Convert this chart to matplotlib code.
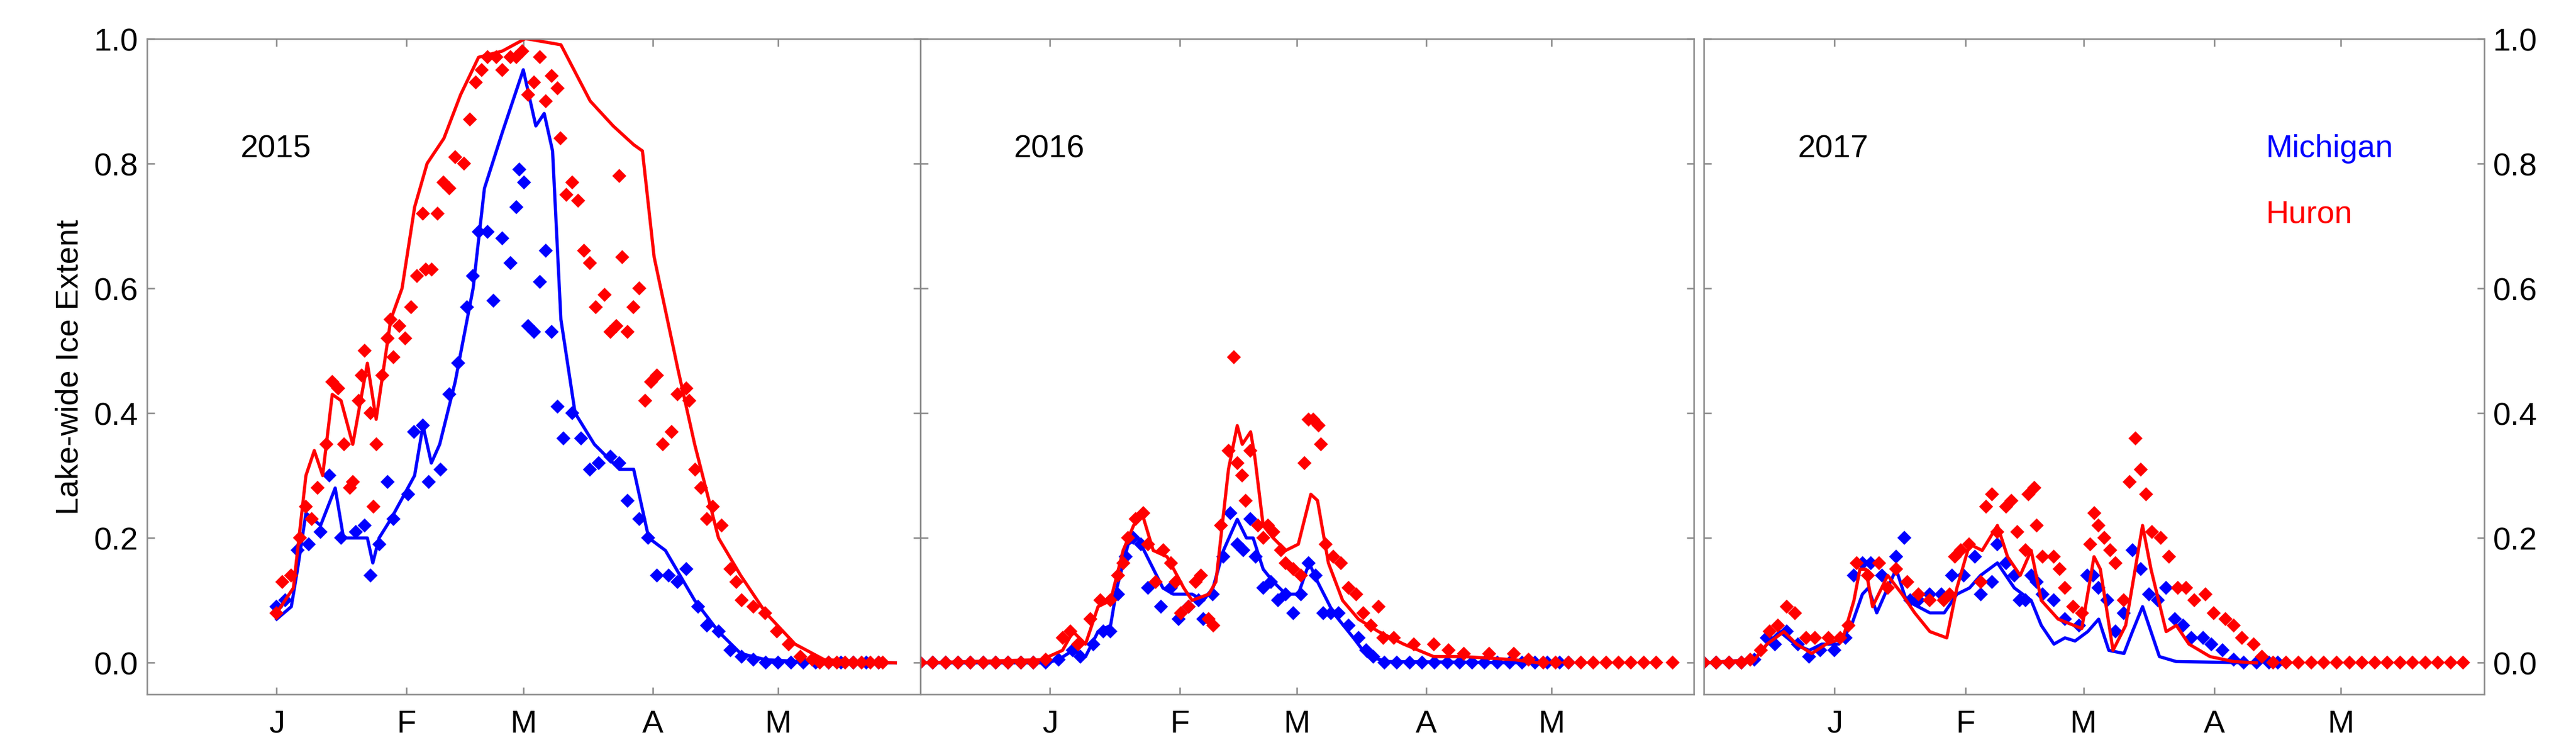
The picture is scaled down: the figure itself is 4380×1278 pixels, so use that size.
import matplotlib
matplotlib.use("Agg")
import matplotlib.pyplot as plt

plt.rcParams['font.family'] = ['Liberation Sans', 'DejaVu Sans']

years = ["2015", "2016", "2017"]
month_labels = ["J", "F", "M", "A", "M"]
month_days = [31, 62, 90, 121, 151]  # days since Dec 1

# ---- 2015 ----
mi_line_2015 = [(31,0.07),(34.5,0.09),(36,0.15),(38,0.24),(41.5,0.22),(45,0.28),(47,0.2),(52.7,0.2),(54,0.16),
    (55.5,0.2),(58.3,0.23),(64,0.3),(66,0.38),(68,0.32),(70,0.35),(73.7,0.45),(78,0.6),(80.7,0.76),(85,0.85),
    (90,0.95),(93,0.86),(95,0.88),(97,0.82),(99,0.55),(102.4,0.4),(107,0.35),(113,0.31),(116.4,0.31),(120,0.2),
    (124,0.18),(131,0.1),(136.7,0.05),(142,0.015),(148,0.005),(162,0.0),(179,0.0)]
hu_line_2015 = [(31,0.08),(35,0.12),(38,0.3),(40,0.34),(42,0.3),(44.3,0.43),(46.4,0.42),(49.2,0.35),(52.7,0.48),
    (54.8,0.39),(58.3,0.55),(61,0.6),(64,0.73),(67,0.8),(71,0.84),(75,0.91),(79.3,0.97),(85,0.98),(90.5,1.0),
    (99,0.99),(106,0.9),(111.5,0.86),(116.4,0.83),(118.5,0.82),(121.3,0.65),(127,0.47),(131,0.35),(136.7,0.2),
    (142,0.14),(148,0.08),(155,0.03),(162,0.005),(179,0.0)]
mi_pts_2015 = [(31,0.09),(33,0.1),(36,0.18),(38.7,0.19),(41.5,0.21),(43.6,0.3),(46.4,0.2),(49.9,0.21),(52,0.22),
    (53.4,0.14),(55.5,0.19),(57.6,0.29),(59,0.23),(62.5,0.27),(63.9,0.37),(66,0.38),(67.4,0.29),(70.2,0.31),
    (72.3,0.43),(74.4,0.48),(76.5,0.57),(77.9,0.62),(79.3,0.69),(81.4,0.69),(82.8,0.58),(84.9,0.68),(87,0.64),
    (88.4,0.73),(89.1,0.79),(90.2,0.77),(91.2,0.54),(92.6,0.53),(94,0.61),(95.4,0.66),(96.8,0.53),(98.2,0.41),
    (99.6,0.36),(101.7,0.4),(103.8,0.36),(105.9,0.31),(108,0.32),(110.8,0.33),(112.9,0.32),(115,0.26),
    (117.8,0.23),(119.9,0.2),(122,0.14),(124.8,0.14),(126.9,0.13),(129,0.15),(131.8,0.09),(133.9,0.06),
    (136.7,0.05),(139.5,0.02),(142.3,0.01),(145.1,0.005),(148,0.0),(151,0.0),(154,0.0),(157,0.0),(160,0.0),
    (163,0.0),(166,0.0),(169,0.0),(172,0.0),(175,0.0)]
hu_pts_2015 = [(31,0.08),(32.4,0.13),(34.5,0.14),(36.6,0.2),(38,0.25),(39.4,0.23),(40.8,0.28),(42.9,0.35),
    (44.3,0.45),(45.7,0.44),(47.1,0.35),(48.5,0.28),(49.2,0.29),(50.6,0.42),(51.3,0.46),(52,0.5),(53.4,0.4),
    (54.1,0.25),(54.8,0.35),(56.2,0.46),(57.6,0.52),(58.3,0.55),(59,0.49),(60.4,0.54),(61.8,0.52),(63.2,0.57),
    (64.6,0.62),(66,0.72),(66.7,0.63),(68.1,0.63),(69.5,0.72),(70.9,0.77),(72.3,0.76),(73.7,0.81),(75.8,0.8),
    (77.2,0.87),(78.6,0.93),(80,0.95),(81.4,0.97),(83.5,0.97),(84.9,0.95),(87,0.97),(88.4,0.97),(89.8,0.98),
    (91.2,0.91),(92.6,0.93),(94,0.97),(95.4,0.9),(96.8,0.94),(98.2,0.92),(98.9,0.84),(100.3,0.75),(101.7,0.77),
    (103.1,0.74),(104.5,0.66),(105.9,0.64),(107.3,0.57),(109.4,0.59),(110.8,0.53),(112.2,0.54),(112.9,0.78),
    (113.6,0.65),(115,0.53),(116.4,0.57),(117.8,0.6),(119.2,0.42),(120.6,0.45),(122,0.46),(123.4,0.35),
    (125.5,0.37),(126.9,0.43),(129,0.44),(129.7,0.42),(131.1,0.31),(132.5,0.28),(133.9,0.23),(135.3,0.25),
    (137.4,0.22),(139.5,0.15),(140.9,0.13),(142.3,0.1),(145.1,0.09),(147.9,0.08),(150.7,0.05),(153.5,0.03),
    (156.3,0.01),(159.1,0.005),(161,0.0),(163,0.0),(165,0.0),(167,0.0),(169,0.0),(171,0.0),(173,0.0),(175,0.0),(176,0.0)]

# ---- 2016 ----
mi_line_2016 = [(0,0.0),(30,0.0),(33,0.005),(36.5,0.02),(39.5,0.01),(42.5,0.05),(45.5,0.06),(47,0.12),(49.7,0.19),
    (52,0.2),(55,0.16),(58,0.12),(60.5,0.11),(65,0.11),(67.7,0.1),(70,0.12),(72.5,0.18),(75.8,0.23),(78,0.2),
    (79.6,0.2),(82,0.15),(84.4,0.13),(87.4,0.11),(90.4,0.11),(93,0.16),(95,0.13),(98.8,0.08),(103.6,0.04),
    (107,0.01),(112,0.002),(150,0.0)]
hu_line_2016 = [(0,0.0),(29,0.005),(34,0.02),(36.5,0.05),(39.5,0.03),(42.5,0.09),(45.5,0.1),(48.5,0.18),(51,0.22),
    (53,0.24),(55.7,0.18),(59,0.17),(63,0.12),(65,0.1),(69,0.11),(70.7,0.13),(73.7,0.31),(75.8,0.38),(77,0.35),
    (79,0.37),(80,0.33),(82,0.22),(84.4,0.2),(87.4,0.18),(90.4,0.19),(93.4,0.27),(95,0.26),(97.6,0.16),(101,0.1),
    (104.8,0.07),(109.6,0.05),(115.6,0.03),(122.8,0.01),(130,0.01),(142,0.005),(148,0.0)]
mi_pts_2016 = [(0,0),(3,0),(6,0),(9,0),(12,0),(15,0),(18,0),(21,0),(24,0),(27,0),(30,0),(33,0.005),
    (36.5,0.02),(38.3,0.01),(41.3,0.03),(43.7,0.05),(45.5,0.05),(47.3,0.11),(49.1,0.17),(50.9,0.2),(52.7,0.19),
    (54.5,0.12),(57.5,0.09),(59.9,0.12),(61.7,0.07),(64.1,0.09),(66.5,0.1),(67.7,0.07),(70,0.11),(72.5,0.17),
    (74.2,0.24),(75.8,0.19),(77.2,0.18),(79,0.23),(80.2,0.17),(82,0.12),(83.8,0.13),(85.6,0.1),(87.4,0.11),
    (89.2,0.08),(91,0.11),(92.8,0.16),(94.6,0.14),(96.4,0.08),(98.2,0.08),(100,0.08),(102.4,0.06),(104.8,0.04),
    (106.6,0.02),(108.4,0.01),(111,0),(114,0),(117,0),(120,0),(123,0),(126,0),(129,0),(132,0),(135,0),(138,0),
    (141,0),(144,0),(147,0),(150,0),(153,0),(155,0)]
hu_pts_2016 = [(0,0),(3,0),(6,0),(9,0),(12,0),(15,0),(18,0),(21,0),(24,0),(27,0),(30,0.005),(34.1,0.04),
    (35.9,0.05),(37.7,0.03),(40.7,0.07),(43.1,0.1),(45.5,0.1),(47.3,0.14),(48.5,0.16),(49.7,0.2),(51.5,0.23),
    (53.3,0.24),(54.5,0.19),(56.3,0.13),(58.1,0.18),(59.9,0.16),(61.1,0.13),(62.3,0.08),(64.1,0.09),(65.9,0.13),
    (67.1,0.14),(68.9,0.07),(70.1,0.06),(71.9,0.22),(73.7,0.34),(75,0.49),(75.8,0.32),(77,0.3),(77.8,0.26),
    (79,0.34),(80.8,0.22),(82,0.2),(83.2,0.22),(84.4,0.21),(86.2,0.18),(87.4,0.16),(89.2,0.15),(91,0.14),
    (91.9,0.32),(92.8,0.39),(94,0.39),(95.2,0.38),(95.8,0.35),(97,0.19),(98.8,0.17),(100.6,0.16),(102.4,0.12),
    (104.2,0.11),(106,0.08),(107.8,0.06),(109.6,0.09),(110.8,0.04),(113.2,0.04),(118,0.03),(122.8,0.03),
    (126.4,0.02),(130,0.015),(136,0.015),(142,0.015),(145.5,0.005),(149,0),(152,0),(155,0),(158,0),(161,0),
    (164,0),(167,0),(170,0),(173,0),(176,0),(180,0)]

# ---- 2017 ----
mi_line_2017 = [(0,0.0),(12,0.005),(15,0.03),(18,0.05),(21.6,0.03),(25,0.02),(28,0.03),(32,0.03),(35,0.06),
    (37.6,0.11),(39,0.12),(41,0.08),(43.6,0.12),(45.6,0.15),(48,0.1),(53.6,0.08),(57,0.08),(60,0.11),(63,0.12),
    (65.6,0.14),(69.6,0.16),(73.6,0.12),(77.6,0.1),(80,0.06),(83,0.03),(85.6,0.04),(88,0.035),(91,0.05),
    (93.6,0.07),(96,0.02),(99.6,0.015),(101.6,0.05),(104,0.09),(106,0.05),(108,0.01),(112,0.002),(131,0.0)]
hu_line_2017 = [(0,0.0),(12,0.005),(15,0.03),(19,0.05),(22,0.03),(25.6,0.015),(29,0.03),(33,0.04),(35.6,0.1),
    (37,0.15),(38.4,0.15),(40,0.09),(43.6,0.14),(47,0.11),(50,0.08),(53.6,0.05),(57.6,0.04),(60,0.12),(63,0.19),
    (66,0.18),(69.6,0.22),(72,0.17),(75,0.14),(77.6,0.18),(80,0.1),(84,0.07),(89.6,0.055),(92.5,0.17),(94,0.15),
    (97,0.02),(100,0.06),(104,0.22),(106,0.15),(109.6,0.05),(112,0.06),(115,0.03),(120,0.01),(125.6,0.002),(131,0.0)]
mi_pts_2017 = [(0,0),(3,0),(6,0),(9,0),(12,0.005),(14.9,0.04),(16.9,0.03),(19.6,0.05),(22.3,0.03),(24.9,0.01),
    (27.6,0.02),(30.9,0.02),(33.6,0.04),(35.6,0.14),(37.6,0.16),(39.6,0.16),(42.3,0.14),(45.6,0.17),(47.6,0.2),
    (48.9,0.1),(50.9,0.1),(53.6,0.11),(56.3,0.11),(58.9,0.14),(61.6,0.14),(64.3,0.17),(65.6,0.11),(68.3,0.13),
    (69.6,0.19),(71.6,0.16),(73.6,0.14),(74.9,0.1),(76.3,0.1),(77.6,0.14),(78.9,0.13),(80.3,0.11),(82.9,0.1),
    (85.6,0.07),(88.9,0.06),(90.9,0.14),(92.3,0.14),(93.6,0.12),(95.6,0.1),(97.6,0.05),(99.6,0.08),(101.6,0.18),
    (103.6,0.15),(105.6,0.11),(107.6,0.1),(109.6,0.12),(111.6,0.07),(113.6,0.06),(115.6,0.04),(118.3,0.04),
    (120.3,0.03),(122.9,0.02),(125.6,0.005),(128,0),(131,0),(134,0),(136,0)]
hu_pts_2017 = [(0,0),(3,0),(6,0),(9,0),(11,0.005),(13.6,0.02),(15.6,0.05),(17.6,0.06),(19.6,0.09),(21.6,0.08),
    (24.3,0.04),(26.3,0.04),(29.6,0.04),(32.3,0.04),(34.3,0.06),(36.3,0.16),(38.9,0.14),(41.6,0.16),(43.6,0.12),
    (45.6,0.15),(48.3,0.13),(50.9,0.11),(53.6,0.1),(56.9,0.1),(58.3,0.11),(59.6,0.17),(60.9,0.18),(62.9,0.19),
    (65.6,0.13),(66.9,0.25),(68.3,0.27),(69.6,0.21),(71.6,0.25),(72.9,0.26),(74.3,0.21),(76.3,0.18),(76.9,0.27),
    (78.3,0.28),(78.9,0.22),(80.3,0.17),(82.9,0.17),(84.3,0.15),(85.6,0.12),(87.6,0.09),(89.6,0.08),(91.6,0.19),
    (92.5,0.24),(93.6,0.22),(94.9,0.2),(96.3,0.18),(97.6,0.16),(99.6,0.1),(100.9,0.29),(102.3,0.36),(103.6,0.31),
    (104.9,0.27),(106.3,0.21),(108.3,0.2),(110.3,0.17),(112.3,0.12),(114.3,0.12),(116.3,0.1),(118.9,0.11),
    (120.9,0.08),(123.6,0.07),(125.6,0.06),(127.6,0.04),(130.3,0.03),(132.3,0.01),(135,0),(138,0),(141,0),
    (144,0),(147,0),(150,0),(153,0),(156,0),(159,0),(162,0),(165,0),(168,0),(171,0),(174,0),(177,0),(180,0)]

series = {
    "2015": (mi_line_2015, hu_line_2015, mi_pts_2015, hu_pts_2015),
    "2016": (mi_line_2016, hu_line_2016, mi_pts_2016, hu_pts_2016),
    "2017": (mi_line_2017, hu_line_2017, mi_pts_2017, hu_pts_2017),
}

BLUE = "#0000ff"
RED = "#ff0000"

fig = plt.figure(figsize=(14.6, 4.2633), dpi=300)
lefts = [0.0571, 0.3573, 0.6614]
width = 0.3002
bottom, height = 0.077, 0.871

def unzip(pairs):
    return [p[0] for p in pairs], [p[1] for p in pairs]

for i, yr in enumerate(years):
    w = width if i < 2 else 0.3030
    ax = fig.add_axes([lefts[i], bottom, w, height])
    ml, hl, mp, hp = series[yr]
    x, y = unzip(mp); ax.plot(x, y, 'D', color=BLUE, ms=4.2, mew=0)
    x, y = unzip(ml); ax.plot(x, y, '-', color=BLUE, lw=1.3)
    x, y = unzip(hp); ax.plot(x, y, 'D', color=RED, ms=4.2, mew=0)
    x, y = unzip(hl); ax.plot(x, y, '-', color=RED, lw=1.3)
    ax.set_xlim(0, 185)
    ax.set_ylim(-0.05, 1.0)
    ax.set_xticks(month_days)
    ax.set_xticklabels(month_labels)
    ax.set_yticks([0, 0.2, 0.4, 0.6, 0.8, 1.0])
    ax.set_yticklabels(["0.0", "0.2", "0.4", "0.6", "0.8", "1.0"])
    for s in ax.spines.values():
        s.set_color("#888888"); s.set_linewidth(0.6)
    ax.tick_params(direction='in', length=3, width=0.6, color="#888888", labelsize=13,
                   top=True, right=True, labelcolor='black')
    ax.tick_params(axis='x', pad=6)
    if i == 0:
        ax.set_ylabel("Lake-wide Ice Extent", fontsize=13)
        ax.tick_params(axis='y', labelleft=True, labelright=False)
    elif i == 2:
        ax.tick_params(axis='y', labelleft=False, labelright=True)
    else:
        ax.tick_params(axis='y', labelleft=False)
    ax.text(0.12, 0.82, yr, transform=ax.transAxes, fontsize=13)
    if i == 2:
        ax.text(0.72, 0.82, "Michigan", color=BLUE, transform=ax.transAxes, fontsize=13)
        ax.text(0.72, 0.72, "Huron", color=RED, transform=ax.transAxes, fontsize=13)

fig.savefig("out.png", dpi=300)
